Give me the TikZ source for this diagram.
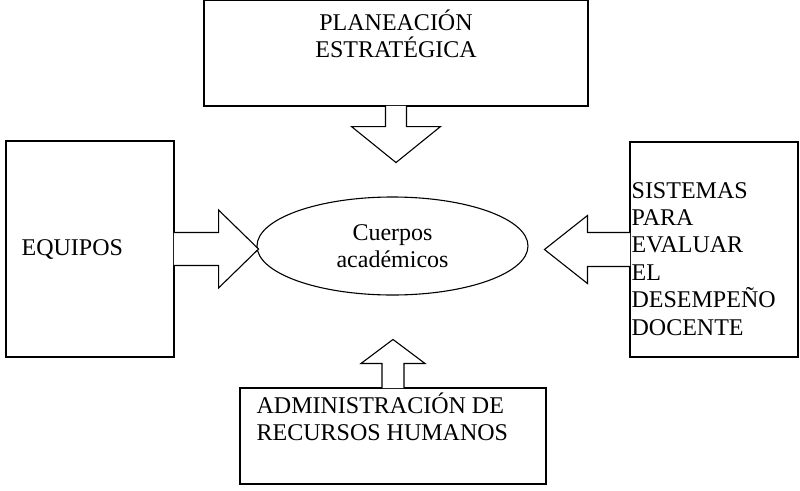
\documentclass[tikz,border=0pt]{standalone}
\usepackage{fontspec}
\setmainfont{Liberation Serif}
\usetikzlibrary{positioning, calc, shapes.geometric}

\begin{document}
\begin{tikzpicture}[x=1pt, y=-1pt,
  box/.style={draw, line width=1.1pt, rectangle, inner sep=0pt},
  oval/.style={draw, line width=1.1pt, ellipse, inner sep=0pt,
               minimum width=271pt, minimum height=98pt, align=center},
  lbl/.style={inner sep=0pt, align=left},
  blk/.style={draw, fill=white, line width=1.1pt, line join=miter},
  every node/.style={font=\fontsize{24}{27.4}\selectfont}]
  \useasboundingbox (0,0) rectangle (800,490);
  % boxes
  \node[box, minimum width=384pt, minimum height=105.5pt] (plan) at (396,53.25) {};
  \node[box, minimum width=168pt, minimum height=216pt] (equip) at (90,249) {};
  \node[box, minimum width=168pt, minimum height=215pt] (sist) at (714,249.5) {};
  \node[box, minimum width=306pt, minimum height=96pt] (admin) at (393,436) {};
  \node[oval] (cuerpos) at (392.5,246) {Cuerpos\\académicos};
  % labels
  \node[lbl, align=center, anchor=base] (tplan) at ($(plan.north)+(0,58)$) {PLANEACIÓN\\ESTRATÉGICA};
  \node[lbl, anchor=base west] (tequip) at ($(equip.west)+(16,6)$) {EQUIPOS};
  \node[lbl, anchor=base west] (tsist) at ($(sist.north west)+(2,193.7)$) {SISTEMAS\\PARA\\EVALUAR\\EL\\DESEMPEÑO\\DOCENTE};
  \node[lbl, anchor=base west] (tadmin) at ($(admin.north west)+(17,53)$) {ADMINISTRACIÓN DE\\RECURSOS HUMANOS};
  % arrow tips
  \coordinate (tipP) at ($(plan.south)+(0,56)$);
  \coordinate (tipE) at ($(equip.east)+(84,0)$);
  \coordinate (tipS) at ($(sist.west)+(-85,0)$);
  \coordinate (tipA) at ($(admin.north)+(0,-48)$);
  % block arrows
  \draw[blk] ($(plan.south)+(-10.5,-0.7)$) -- ++(0,20.7) -- ++(-34,0) -- (tipP)
    -- ++(44.5,-36) -- ++(-34,0) -- ++(0,-20.7);
  \draw[blk] ($(equip.east)+(-0.7,-16.5)$) -- ++(44.7,0) -- ++(0,-22.5) -- (tipE)
    -- ++(-40,39) -- ++(0,-22.5) -- ++(-44.7,0);
  \draw[blk] ($(sist.west)+(0.7,-17)$) -- ++(-42.7,0) -- ++(0,-17) -- (tipS)
    -- ++(43,34) -- ++(0,-17) -- ++(42.7,0);
  \draw[blk] ($(admin.north)+(-11,0.7)$) -- ++(0,-24.7) -- ++(-21,0) -- (tipA)
    -- ++(32,24) -- ++(-21,0) -- ++(0,24.7);
\end{tikzpicture}
\end{document}
